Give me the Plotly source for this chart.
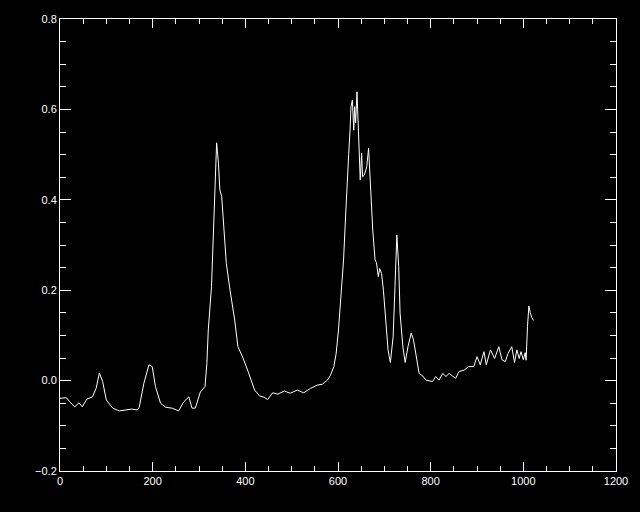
import plotly.graph_objects as go

channel = [0, 14, 21, 32, 41, 48, 58, 70, 78, 85, 92, 100, 114, 128, 142, 155, 167, 171, 181,
           192, 199, 206, 217, 228, 242, 256, 267, 278, 285, 292, 303, 313, 317, 320, 327, 333,
           336, 338, 342, 345, 349, 352, 359, 367, 377, 384, 395, 406, 414, 420, 431, 441, 448,
           459, 470, 484, 497, 512, 526, 541, 555, 566, 577, 584, 591, 596, 601, 606, 612, 616,
           619, 623, 626, 628, 631, 634, 636, 638, 641, 643, 646, 648, 651, 653, 657, 662, 666,
           668, 670, 673, 675, 680, 683, 687, 690, 694, 698, 703, 708, 713, 719, 723, 727, 731,
           734, 740, 745, 751, 758, 763, 769, 775, 783, 790, 804, 811, 818, 826, 833, 840, 847,
           854, 861, 872, 882, 893, 900, 907, 915, 920, 929, 938, 947, 954, 961, 967, 975, 981,
           986, 991, 995, 1000, 1004, 1006, 1009, 1012, 1015, 1018, 1022]
signal = [-0.039, -0.038, -0.047, -0.058, -0.049, -0.058, -0.041, -0.036, -0.017, 0.017, -0.002,
          -0.043, -0.061, -0.067, -0.065, -0.063, -0.065, -0.059, -0.006, 0.035, 0.031, -0.013,
          -0.050, -0.059, -0.061, -0.067, -0.047, -0.036, -0.061, -0.061, -0.025, -0.013, 0.038,
          0.112, 0.208, 0.392, 0.510, 0.526, 0.481, 0.422, 0.407, 0.363, 0.259, 0.200, 0.134,
          0.075, 0.050, 0.020, -0.005, -0.021, -0.034, -0.037, -0.042, -0.027, -0.030, -0.023,
          -0.028, -0.021, -0.027, -0.017, -0.010, -0.008, 0.001, 0.012, 0.031, 0.060, 0.112,
          0.186, 0.267, 0.355, 0.433, 0.500, 0.554, 0.606, 0.621, 0.554, 0.606, 0.570, 0.639,
          0.577, 0.473, 0.444, 0.503, 0.451, 0.455, 0.473, 0.514, 0.473, 0.407, 0.355, 0.333,
          0.267, 0.261, 0.230, 0.248, 0.237, 0.200, 0.134, 0.068, 0.040, 0.097, 0.208, 0.322,
          0.252, 0.149, 0.075, 0.040, 0.075, 0.105, 0.090, 0.055, 0.016, 0.010, 0.001, -0.002,
          0.009, 0.001, 0.016, 0.009, 0.016, 0.010, 0.005, 0.020, 0.023, 0.031, 0.031, 0.053,
          0.035, 0.064, 0.035, 0.068, 0.049, 0.075, 0.046, 0.042, 0.060, 0.075, 0.040, 0.068,
          0.049, 0.064, 0.046, 0.062, 0.045, 0.120, 0.165, 0.150, 0.140, 0.133]

x_range = [0, 1200]
y_range = [-0.2, 0.8]

fig = go.Figure(go.Scatter(x=channel, y=signal, mode="lines",
                           line=dict(color="white", width=1), hoverinfo="skip"))

axis_common = dict(showgrid=False, zeroline=False, showline=True, linecolor="white",
                   linewidth=1, mirror="ticks", ticks="inside", tickcolor="white",
                   tickwidth=1, color="white",
                   tickfont=dict(family="Liberation Sans", size=11, color="white"))

fig.update_xaxes(range=x_range, dtick=200, tick0=0, ticklen=9,
                 minor=dict(dtick=50, ticklen=5, ticks="inside", tickcolor="white"),
                 **axis_common)
fig.update_yaxes(range=y_range, dtick=0.2, tick0=-0.2, ticklen=11, tickformat=".1f",
                 minor=dict(dtick=0.05, ticklen=6, ticks="inside", tickcolor="white"),
                 **axis_common)

fig.update_layout(width=640, height=512, paper_bgcolor="black", plot_bgcolor="black",
                  margin=dict(l=60, r=18, t=19, b=41), showlegend=False)

fig.write_html(
    "out.html",
    config={"displayModeBar": False},
    post_script="document.body.style.margin='0';document.body.style.padding='0';"
                "document.body.style.background='black';"
                "document.documentElement.style.background='black';"
                "document.body.style.overflow='hidden';",
)
